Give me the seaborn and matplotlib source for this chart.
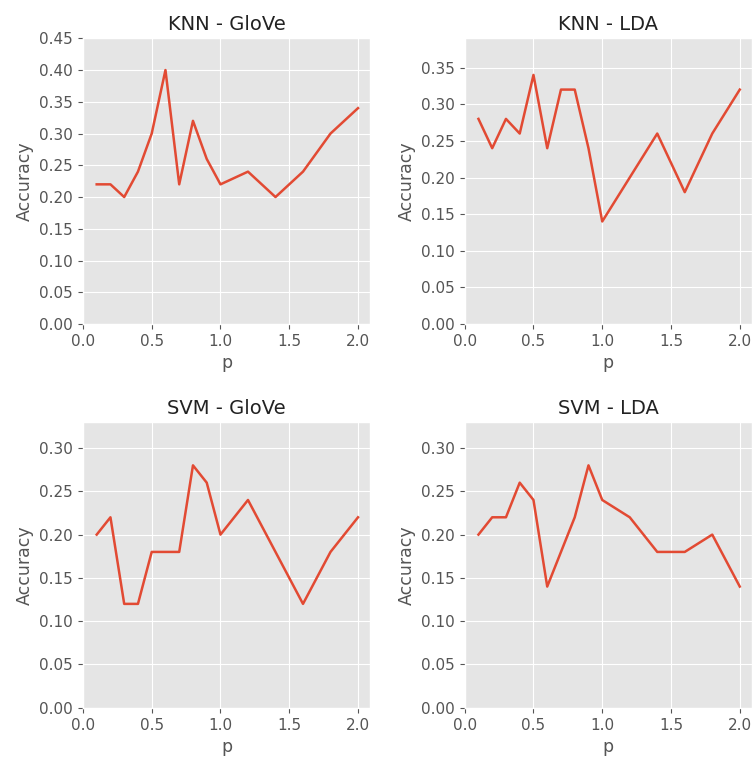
import pandas as pd
import matplotlib
matplotlib.use('Agg')
import matplotlib.pyplot as plt
import seaborn as sns

# p values used in the grid search
p_values = [0.1, 0.2, 0.3, 0.4, 0.5, 0.6, 0.7, 0.8, 0.9, 1.0, 1.2, 1.4, 1.6, 1.8, 2.0]

# accuracy per model / feature set
knn_glove = [0.22, 0.22, 0.20, 0.24, 0.30, 0.40, 0.22, 0.32, 0.26, 0.22, 0.24, 0.20, 0.24, 0.30, 0.34]
knn_lda = [0.28, 0.24, 0.28, 0.26, 0.34, 0.24, 0.32, 0.32, 0.24, 0.14, 0.20, 0.26, 0.18, 0.26, 0.32]
svm_glove = [0.20, 0.22, 0.12, 0.12, 0.18, 0.18, 0.18, 0.28, 0.26, 0.20, 0.24, 0.18, 0.12, 0.18, 0.22]
svm_lda = [0.20, 0.22, 0.22, 0.26, 0.24, 0.14, 0.18, 0.22, 0.28, 0.24, 0.22, 0.18, 0.18, 0.20, 0.14]

titles = ['KNN - GloVe', 'KNN - LDA', 'SVM - GloVe', 'SVM - LDA']
series = [knn_glove, knn_lda, svm_glove, svm_lda]
y_tops = [0.45, 0.39, 0.33, 0.33]

plt.style.use('ggplot')

fig, axes = plt.subplots(2, 2, figsize=(7.54, 7.66), dpi=100)
fig.subplots_adjust(left=0.110, right=0.997, top=0.950, bottom=0.076,
                    wspace=0.33, hspace=0.343)

for ax, title, acc, top in zip(axes.flat, titles, series, y_tops):
    df = pd.DataFrame({'p': p_values, 'Accuracy': acc})
    sns.lineplot(data=df, x='p', y='Accuracy', ax=ax, color='#E24A33', linewidth=1.8)
    ax.set_title(title, fontsize=14, color='#222222')
    ax.set_xlabel('p', fontsize=12.5, color='#555555')
    ax.set_ylabel('Accuracy', fontsize=12.5, color='#555555')
    ax.set_xlim(0, 2.087)
    ax.set_ylim(0, top)
    ax.set_xticks([0.0, 0.5, 1.0, 1.5, 2.0])
    ax.tick_params(labelsize=11)

plt.savefig('out.png', dpi=100)
